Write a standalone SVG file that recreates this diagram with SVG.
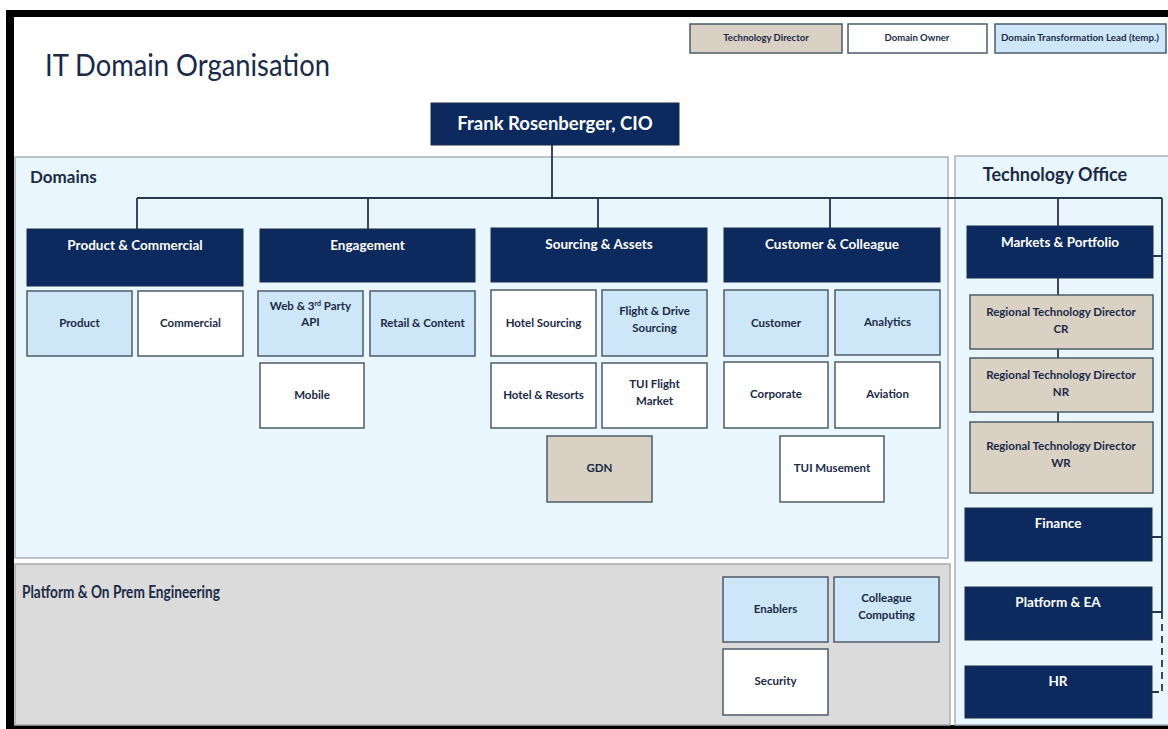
<svg xmlns="http://www.w3.org/2000/svg" width="1168" height="729" viewBox="0 0 1168 729">
<style>
.t{font-family:Lato,"Open Sans","Liberation Sans",sans-serif;font-weight:bold;fill:#1b2a47;text-anchor:middle}
.w{fill:#ffffff}
.navy{fill:#0c2a5e;stroke:#1d2e4a;stroke-width:1}
.lb{fill:#cde7f8;stroke:#4d5b6b;stroke-width:1.5}
.wb{fill:#ffffff;stroke:#4d5b6b;stroke-width:1.5}
.tan{fill:#d9d1c3;stroke:#4d5b6b;stroke-width:1.5}
.bx{font-size:11.5px}
.hd{font-size:13.5px}
.lg{font-size:9.5px}
.ln{stroke:#26364d;stroke-width:1.8;fill:none}
</style>
<rect x="0" y="0" width="1168" height="729" fill="#ffffff"/>
<g id="frame">
<rect x="6" y="10" width="1162" height="7" fill="#000"/>
<rect x="6" y="10" width="8" height="719" fill="#000"/>
<rect x="6" y="725" width="1162" height="4" fill="#000"/>
</g>
<g id="panels">
<rect x="15" y="157" width="933" height="401" fill="#eaf6fd" stroke="#a9b1b8" stroke-width="1.5"/>
<rect x="15" y="564" width="935" height="161" fill="#dbdbdb" stroke="#a9aaab" stroke-width="1.5"/>
<rect x="955" y="156" width="220" height="569" fill="#eaf6fd" stroke="#a9b1b8" stroke-width="1.5"/>
<text x="30" y="183" class="t" style="text-anchor:start;font-size:17px">Domains</text>
<text x="22" y="598" class="t" style="text-anchor:start;font-size:16.5px" textLength="198" lengthAdjust="spacingAndGlyphs">Platform &amp; On Prem Engineering</text>
<text x="1055" y="181" class="t" style="font-size:18px">Technology Office</text>
</g>
<g id="title">
<text x="45" y="76" style="font-family:Lato,'Open Sans',sans-serif;font-size:31px;fill:#1b2a47" textLength="285" lengthAdjust="spacingAndGlyphs">IT Domain Organisation</text>
</g>
<g id="legend">
<rect x="690" y="24" width="152" height="29" class="tan"/>
<text x="766" y="41" class="t lg">Technology Director</text>
<rect x="848" y="24" width="139" height="29" class="wb"/>
<text x="917" y="41" class="t lg">Domain Owner</text>
<rect x="995" y="24" width="171" height="29" class="lb"/>
<text x="1080" y="41" class="t lg" textLength="158" lengthAdjust="spacingAndGlyphs">Domain Transformation Lead (temp.)</text>
</g>
<g id="connectors">
<path class="ln" d="M552 145V198M137 198H1162M137 198V229M368 198V229M598 198V228M830 198V228M1058 198V226"/>
<path class="ln" d="M1162 198V612M1153 256H1162M1152 537H1162M1152 612H1162"/>
<path class="ln" d="M1162 612V692M1152 692H1162" stroke-dasharray="7,5"/>
<path class="ln" d="M1058 278V295M1058 349V358M1058 412V422"/>
</g>
<g id="cio">
<rect x="431" y="103" width="248" height="42" class="navy"/>
<text x="555" y="130" class="t w" style="font-size:18.5px">Frank Rosenberger, CIO</text>
</g>
<g id="product-commercial">
<rect x="27" y="229" width="216" height="57" class="navy"/>
<text x="135" y="250" class="t w hd">Product &amp; Commercial</text>
</g>
<g id="product"><rect x="27" y="291" width="105" height="65" class="lb"/><text x="79.5" y="327" class="t bx">Product</text></g>
<g id="commercial"><rect x="138" y="291" width="105" height="65" class="wb"/><text x="190.5" y="327" class="t bx">Commercial</text></g>
<g id="engagement">
<rect x="260" y="229" width="215" height="53" class="navy"/>
<text x="367.5" y="250" class="t w hd">Engagement</text>
</g>
<g id="web-api"><rect x="258" y="291" width="105" height="65" class="lb"/><text x="310.5" y="310" class="t bx">Web &amp; 3<tspan font-size="7" dy="-4">rd</tspan><tspan dy="4"> Party</tspan></text><text x="310.5" y="326" class="t bx">API</text></g>
<g id="retail"><rect x="370" y="291" width="105" height="65" class="lb"/><text x="422.5" y="327" class="t bx">Retail &amp; Content</text></g>
<g id="mobile"><rect x="260" y="363" width="104" height="65" class="wb"/><text x="312" y="399" class="t bx">Mobile</text></g>
<g id="sourcing-assets">
<rect x="491" y="228" width="216" height="54" class="navy"/>
<text x="599" y="249" class="t w hd">Sourcing &amp; Assets</text>
</g>
<g id="hotel-sourcing"><rect x="491" y="290" width="105" height="66" class="wb"/><text x="543.5" y="327" class="t bx">Hotel Sourcing</text></g>
<g id="flight-drive"><rect x="602" y="290" width="105" height="66" class="lb"/><text x="654.5" y="315" class="t bx">Flight &amp; Drive</text><text x="654.5" y="332" class="t bx">Sourcing</text></g>
<g id="hotel-resorts"><rect x="491" y="363" width="105" height="65" class="wb"/><text x="543.5" y="399" class="t bx">Hotel &amp; Resorts</text></g>
<g id="tui-flight"><rect x="602" y="363" width="105" height="65" class="wb"/><text x="654.5" y="388" class="t bx">TUI Flight</text><text x="654.5" y="405" class="t bx">Market</text></g>
<g id="gdn"><rect x="547" y="436" width="105" height="66" class="tan"/><text x="599.5" y="472" class="t bx">GDN</text></g>
<g id="customer-colleague">
<rect x="724" y="228" width="216" height="54" class="navy"/>
<text x="832" y="249" class="t w hd">Customer &amp; Colleague</text>
</g>
<g id="customer"><rect x="724" y="290" width="104" height="66" class="lb"/><text x="776" y="327" class="t bx">Customer</text></g>
<g id="analytics"><rect x="835" y="290" width="105" height="65" class="lb"/><text x="887.5" y="326" class="t bx">Analytics</text></g>
<g id="corporate"><rect x="724" y="362" width="104" height="66" class="wb"/><text x="776" y="398" class="t bx">Corporate</text></g>
<g id="aviation"><rect x="835" y="362" width="105" height="66" class="wb"/><text x="887.5" y="398" class="t bx">Aviation</text></g>
<g id="tui-musement"><rect x="780" y="436" width="104" height="66" class="wb"/><text x="832" y="472" class="t bx">TUI Musement</text></g>
<g id="enablers"><rect x="723" y="577" width="105" height="65" class="lb"/><text x="775.5" y="613" class="t bx">Enablers</text></g>
<g id="colleague-computing"><rect x="834" y="577" width="105" height="65" class="lb"/><text x="886.5" y="602" class="t bx">Colleague</text><text x="886.5" y="619" class="t bx">Computing</text></g>
<g id="security"><rect x="723" y="649" width="105" height="66" class="wb"/><text x="775.5" y="685" class="t bx">Security</text></g>
<g id="markets-portfolio">
<rect x="967" y="226" width="186" height="52" class="navy"/>
<text x="1060" y="247" class="t w hd">Markets &amp; Portfolio</text>
</g>
<g id="rtd-cr"><rect x="970" y="295" width="183" height="54" class="tan"/><text x="1061" y="316" class="t bx">Regional Technology Director</text><text x="1061" y="333" class="t bx">CR</text></g>
<g id="rtd-nr"><rect x="970" y="358" width="183" height="54" class="tan"/><text x="1061" y="379" class="t bx">Regional Technology Director</text><text x="1061" y="396" class="t bx">NR</text></g>
<g id="rtd-wr"><rect x="970" y="422" width="183" height="71" class="tan"/><text x="1061" y="450" class="t bx">Regional Technology Director</text><text x="1061" y="467" class="t bx">WR</text></g>
<g id="finance"><rect x="965" y="508" width="187" height="53" class="navy"/><text x="1058" y="528" class="t w hd">Finance</text></g>
<g id="platform-ea"><rect x="965" y="587" width="187" height="53" class="navy"/><text x="1058" y="607" class="t w hd">Platform &amp; EA</text></g>
<g id="hr"><rect x="965" y="666" width="187" height="52" class="navy"/><text x="1058" y="686" class="t w hd">HR</text></g>
</svg>
